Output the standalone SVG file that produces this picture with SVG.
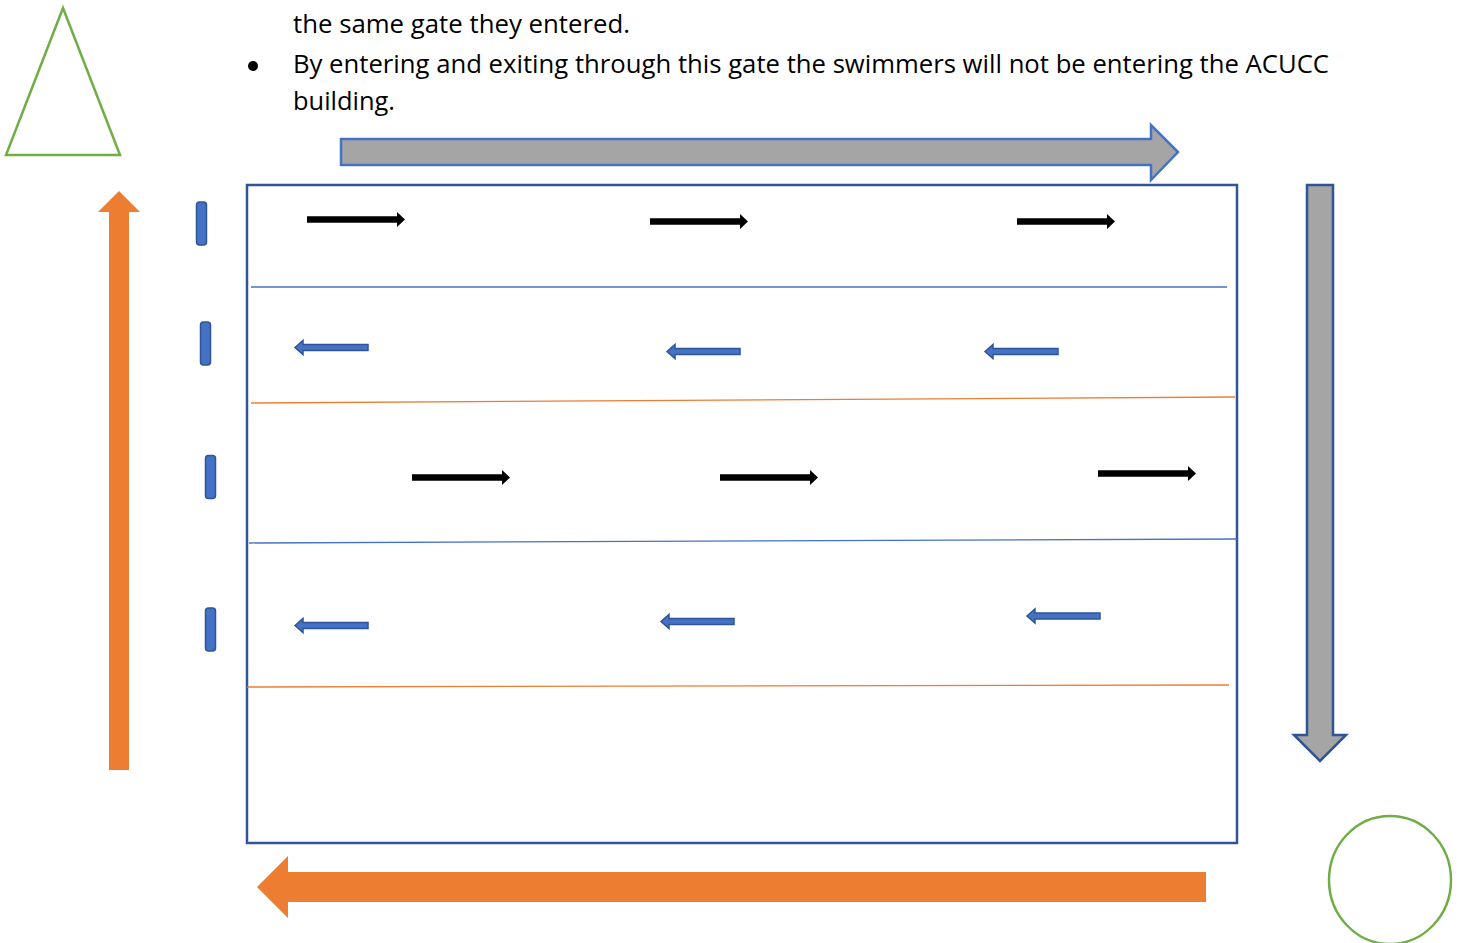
<svg xmlns="http://www.w3.org/2000/svg" width="1459" height="943" viewBox="0 0 1459 943">
<style>
.txt{font-family:"Open Sans","Liberation Sans",sans-serif;font-size:25px;fill:#000}
.green{fill:none;stroke:#70AD47;stroke-width:2.5}
.lane-b{stroke:#4472C4;stroke-width:1.3;fill:none}
.lane-o{stroke:#ED7D31;stroke-width:1.3;fill:none}
.blk{fill:#000}
.bl{fill:#4472C4;stroke:#2F5597;stroke-width:1.5}
.gate{fill:#4472C4;stroke:#2F5597;stroke-width:1.5}
.org{fill:#ED7D31}
</style>
<defs>
<path id="blackArrow" d="M0,-3.3 H90 V-7.5 L98,0 L90,7.5 V3.3 H0 Z"/>
<path id="blueArrow" d="M0,0 L8,-7 V-3 H73 V3 H8 V7 Z"/>
<rect id="gatePill" x="-5" y="-21.5" width="10" height="43" rx="3"/>
</defs>
<rect width="1459" height="943" fill="#fff"/>
<g id="text">
<text class="txt" x="293" y="33" textLength="337" lengthAdjust="spacingAndGlyphs">the same gate they entered.</text>
<circle cx="253" cy="66" r="5" fill="#000"/>
<text class="txt" x="293" y="73" textLength="1036" lengthAdjust="spacingAndGlyphs">By entering and exiting through this gate the swimmers will not be entering the ACUCC</text>
<text class="txt" x="293" y="110" textLength="102" lengthAdjust="spacingAndGlyphs">building.</text>
</g>
<g id="triangle"><polygon class="green" points="63,8 120,155 6,155"/></g>
<g id="circle"><ellipse class="green" cx="1390" cy="880" rx="61" ry="64"/></g>
<g id="pool"><rect x="247" y="185" width="990" height="658" fill="none" stroke="#2F5597" stroke-width="2.5"/></g>
<g id="lanes">
<line class="lane-b" x1="251" y1="287" x2="1227" y2="287"/>
<line class="lane-o" x1="251" y1="403" x2="1235" y2="397"/>
<line class="lane-b" x1="249" y1="543" x2="1237" y2="539"/>
<line class="lane-o" x1="247" y1="687" x2="1229" y2="685"/>
</g>
<g id="gates">
<use href="#gatePill" class="gate" x="201.5" y="223.5"/>
<use href="#gatePill" class="gate" x="205.5" y="343.5"/>
<use href="#gatePill" class="gate" x="210.5" y="477"/>
<use href="#gatePill" class="gate" x="210.5" y="629.5"/>
</g>
<g id="connectors">
<polygon id="top-arrow" points="341,139 1151,139 1151,125 1178,152 1151,180 1151,165 341,165" fill="#A5A5A5" stroke="#4472C4" stroke-width="2.5"/>
<polygon id="right-arrow" points="1307,185 1333,185 1333,735 1346,735 1320,761 1294,735 1307,735" fill="#A5A5A5" stroke="#2F5597" stroke-width="2.5"/>
<polygon id="bottom-arrow" class="org" points="1206,872 1206,902 288,902 288,918 257,887 288,856 288,872"/>
<polygon id="left-arrow" class="org" points="109,770 129,770 129,212 140,212 119,191 98,212 109,212"/>
<use href="#blackArrow" class="blk" x="307" y="219.5"/>
<use href="#blackArrow" class="blk" x="650" y="221.5"/>
<use href="#blackArrow" class="blk" x="1017" y="221.5"/>
<use href="#blackArrow" class="blk" x="412" y="477.5"/>
<use href="#blackArrow" class="blk" x="720" y="477.5"/>
<use href="#blackArrow" class="blk" x="1098" y="473.5"/>
<use href="#blueArrow" class="bl" x="295" y="347.5"/>
<use href="#blueArrow" class="bl" x="667" y="351.5"/>
<use href="#blueArrow" class="bl" x="985" y="351.5"/>
<use href="#blueArrow" class="bl" x="295" y="625.5"/>
<use href="#blueArrow" class="bl" x="661" y="621.5"/>
<use href="#blueArrow" class="bl" x="1027" y="616"/>
</g>
</svg>
